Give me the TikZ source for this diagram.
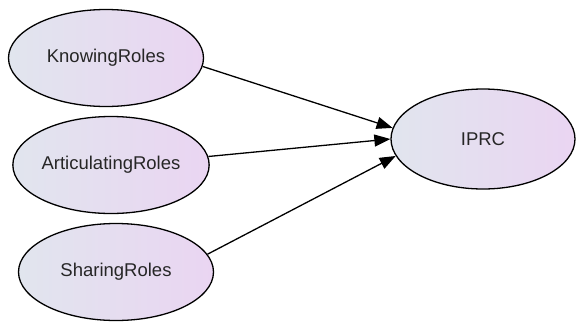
\documentclass[tikz,border=0pt]{standalone}
\usepackage{fontspec}
\setmainfont{Liberation Sans}
\usetikzlibrary{arrows.meta,shapes.geometric}

\definecolor{roleleft}{HTML}{E1E5EE}
\definecolor{roleright}{HTML}{EAD5F2}

\tikzset{
  role/.style={ellipse,draw=black,line width=1.3pt,left color=roleleft,right color=roleright,
               minimum width=195pt,minimum height=97pt,inner sep=0pt,
               font=\fontsize{18.5}{22}\selectfont,text=black!85},
  path/.style={line width=1.3pt,-{Triangle[length=16pt,width=12pt]}}
}

\begin{document}
\begin{tikzpicture}[x=1pt,y=-1pt]
  \useasboundingbox (0,0) rectangle (576,322);

  \node[role] (know) at (106,58) {KnowingRoles};
  \node[role] (artic) at (111,165) {ArticulatingRoles};
  \node[role] (share) at (116,272) {SharingRoles};
  \node[role,minimum width=184pt,minimum height=100pt] (iprc) at (483,139) {IPRC};

  % paths into IPRC
  \draw[path] (know.-5) -- (iprc.173);
  \draw[path] (artic.5) -- (iprc.180);
  \draw[path] (share.11) -- (iprc.191);
\end{tikzpicture}
\end{document}
